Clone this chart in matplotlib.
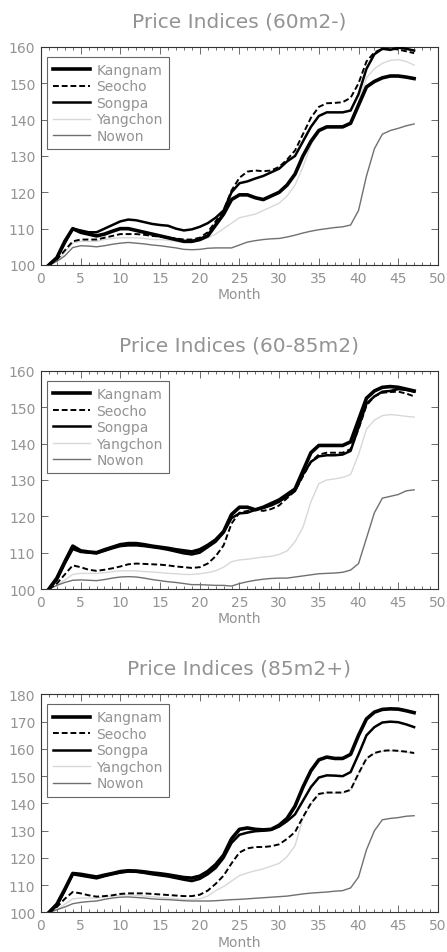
import numpy as np
import matplotlib.pyplot as plt
from matplotlib.ticker import MultipleLocator

months = list(range(1, 48))
districts = ['Kangnam', 'Seocho', 'Songpa', 'Yangchon', 'Nowon']
titles = ['Price Indices (60m2-)', 'Price Indices (60-85m2)', 'Price Indices (85m2+)']

# 60m2-
kangnam_s = [100, 102, 106.5, 110, 109, 108.5, 108, 108.5, 109.3, 110, 110, 109.5, 109, 108.5, 108, 107.5,
             107, 106.5, 106.5, 107, 108, 111, 114, 118, 119.3, 119.3, 118.5, 118, 119, 120, 122, 125,
             130, 134, 137, 138, 138, 138, 139, 144, 149, 150.5, 151.5, 152, 152, 151.7, 151.3]
seocho_s = [100, 101.5, 104, 106.5, 107, 107, 107, 107.5, 108, 108.5, 108.5, 108.5, 108.3, 108, 107.8, 107.5,
            107.3, 107, 107, 107.5, 109, 112, 115, 120.5, 124, 125.7, 126, 125.8, 126, 127, 129, 131.5,
            136, 140.5, 143.5, 144.5, 144.6, 144.8, 146, 150, 156, 158.5, 159.5, 159.5, 159.3, 158.8, 158.3]
songpa_s = [100, 102, 106, 110, 109.5, 109, 109, 110, 111, 112, 112.5, 112.3, 111.8, 111.3, 111, 110.8,
            110, 109.5, 109.8, 110.5, 111.5, 113, 115, 120, 122.5, 123, 123.8, 124.5, 125.5, 126.5, 128.5, 130,
            134, 138, 141, 142, 142, 142, 142.5, 147, 154, 158, 159.5, 159.2, 159.8, 159.5, 159]
yangchon_s = [100, 101, 103.5, 106, 106.5, 106.5, 106.5, 107, 107.3, 107.5, 107.5, 107.5, 107.3, 107, 107, 106.8,
              106.5, 106.3, 106.5, 106.8, 107.5, 108.5, 110, 111.5, 113, 113.5, 114, 115, 116, 117, 119, 122,
              127, 133, 137, 138, 138, 138, 139, 145, 151.5, 154, 155.5, 156.3, 156.5, 156, 155]
nowon_s = [100, 101, 102.5, 104.8, 105.3, 105.2, 105, 105.3, 105.7, 106, 106.2, 106, 105.8, 105.5, 105.3, 105,
           104.7, 104.3, 104.2, 104.3, 104.6, 104.7, 104.7, 104.7, 105.5, 106.3, 106.7, 107, 107.2, 107.3, 107.7, 108.2,
           108.8, 109.3, 109.7, 110, 110.3, 110.5, 111, 115, 124.5, 132, 136, 137, 137.6, 138.3, 138.8]

# 60-85m2
kangnam_m = [100, 103, 107.5, 111.8, 110.5, 110.2, 110, 110.8, 111.5, 112.2, 112.5, 112.5, 112.2, 111.8, 111.5, 111.2,
             110.8, 110.5, 110.2, 110.8, 112, 113.5, 115.8, 120.5, 122.5, 122.5, 121.8, 122.5, 123.5, 124.5, 126, 127.5,
             132.5, 137.5, 139.5, 139.5, 139.5, 139.5, 140.5, 146.5, 152.5, 154.5, 155.5, 155.7, 155.5, 155, 154.5]
seocho_m = [100, 101.5, 104, 106.5, 106, 105.3, 105, 105.3, 105.7, 106.2, 106.8, 107, 106.9, 106.8, 106.7, 106.5,
            106.2, 106, 105.8, 106, 107, 109, 112, 118, 121, 121.5, 121.8, 121.5, 122, 123, 125, 127,
            131, 135, 137, 137.5, 137.5, 137.5, 138.5, 144, 150.5, 153, 154, 154.2, 154.3, 153.8, 153]
songpa_m = [100, 102.5, 107, 111, 110.2, 110, 109.8, 110.5, 111.2, 111.8, 112, 112, 111.8, 111.5, 111.2, 110.8,
            110.3, 109.8, 109.5, 110, 111.5, 113, 115.5, 119.5, 120.8, 121, 121.8, 122.3, 123, 124, 125.5, 127,
            131.5, 135, 136.5, 136.8, 136.8, 137, 138, 144.5, 151, 153, 154.3, 154.5, 155, 154.8, 154.3]
yangchon_m = [100, 101, 102.5, 104, 104.3, 104.3, 104.3, 104.5, 104.8, 105, 105, 105, 104.8, 104.7, 104.5, 104.3,
              104.2, 104, 104, 104.2, 104.5, 105, 106, 107.5, 108, 108.2, 108.5, 108.8, 109, 109.5, 110.5, 113,
              117, 124, 129, 130, 130.3, 130.7, 131.5, 137, 144, 146.5, 147.7, 148, 147.8, 147.5, 147.3]
nowon_m = [100, 101, 101.8, 102.4, 102.5, 102.4, 102.3, 102.6, 103, 103.3, 103.4, 103.3, 103, 102.6, 102.3, 102,
           101.8, 101.5, 101.2, 101.2, 101.1, 101, 101, 100.8, 101.5, 102, 102.4, 102.7, 102.9, 103, 103, 103.3,
           103.6, 103.9, 104.2, 104.3, 104.4, 104.6, 105.2, 107, 114, 121, 125, 125.5, 126, 127, 127.3]

# 85m2+
kangnam_l = [100, 103, 108.5, 114.3, 114, 113.5, 113, 113.7, 114.3, 115, 115.3, 115.2, 114.9, 114.5, 114.2, 113.8,
             113.3, 112.8, 112.6, 113.3, 115, 117.5, 121, 127, 130.5, 131, 130.5, 130.3, 130.5, 132, 134.5, 139,
             146, 152, 156, 157, 156.5, 156.5, 158, 165, 171, 173.5, 174.5, 174.7, 174.6, 174, 173.3]
seocho_l = [100, 102, 105, 107.5, 107, 106.3, 105.8, 106, 106.3, 106.8, 107, 107, 107, 106.8, 106.6, 106.4,
            106.2, 106, 106, 106.5, 108, 110.5, 113.5, 118, 122, 123.5, 124, 124, 124.3, 125, 127, 129.5,
            135, 140, 143.5, 144, 144, 144, 145, 151, 156.5, 158.5, 159.3, 159.5, 159.3, 159, 158.5]
songpa_l = [100, 102.5, 108, 114, 113.5, 113, 112.5, 113.3, 114, 114.6, 115, 114.9, 114.5, 114, 113.6, 113.2,
            112.6, 112, 111.5, 112.3, 114, 116.3, 120, 125.5, 128.5, 129.3, 129.8, 130, 130.3, 131.5, 133.5, 136,
            141, 146, 149.5, 150.3, 150.2, 150, 151.5, 158, 165, 168, 169.7, 170, 169.8, 169, 168]
yangchon_l = [100, 101, 103, 105, 105.3, 105.3, 105.3, 105.7, 106, 106.3, 106.5, 106.3, 106, 105.8, 105.5, 105.3,
              105, 104.8, 104.7, 105, 106, 108, 109.5, 111.5, 113.5, 114.5, 115.3, 116, 117, 118, 120.5, 124.5,
              134.5, 139.8, 143.3, 143.8, 143.8, 143.8, 144.8, 150.8, 156.3, 158.3, 159.1, 159.3, 159.1, 158.8, 158.3]
nowon_l = [100, 101, 102, 103.2, 103.7, 104, 104.2, 104.8, 105.3, 105.6, 105.7, 105.5, 105.3, 105, 104.8, 104.7,
           104.5, 104.3, 104.2, 104.2, 104.2, 104.3, 104.5, 104.7, 104.8, 105, 105.2, 105.4, 105.6, 105.8, 106, 106.4,
           106.8, 107.1, 107.3, 107.5, 107.8, 108, 109, 113, 123, 130, 134, 134.5, 134.8, 135.3, 135.5]

panels = [
    [kangnam_s, seocho_s, songpa_s, yangchon_s, nowon_s],
    [kangnam_m, seocho_m, songpa_m, yangchon_m, nowon_m],
    [kangnam_l, seocho_l, songpa_l, yangchon_l, nowon_l],
]
ylims = [(100, 160), (100, 160), (100, 180)]

# line look per district: colour, width, style, drawing order
styles = [('black', 2.6, '-', 4), ('black', 1.4, (0, (3, 1.5)), 3), ('black', 1.8, '-', 3),
          ('#d8d8d8', 1.0, '-', 2), ('#707070', 1.0, '-', 2)]

txt = '#939393'
fig = plt.figure(figsize=(4.47, 9.53), dpi=100)
bottoms = [0.7209, 0.3809, 0.0415]

for k in range(3):
    ax = fig.add_axes([0.0917, bottoms[k], 0.888, 0.2288])
    for name, series, (c, lw, ls, z) in zip(districts, panels[k], styles):
        ax.plot(months, series, color=c, lw=lw, ls=ls, label=name, zorder=z)
    ax.set_xlim(0, 50)
    ax.set_ylim(*ylims[k])
    ax.xaxis.set_major_locator(MultipleLocator(5))
    ax.xaxis.set_minor_locator(MultipleLocator(1))
    ax.yaxis.set_major_locator(MultipleLocator(10))
    ax.tick_params(which='both', direction='in', top=True, right=True, color='#555555',
                   labelcolor=txt, labelsize=10, width=0.6)
    ax.tick_params(which='major', length=5, pad=4)
    ax.tick_params(which='minor', length=2.5)
    for s in ax.spines.values():
        s.set_linewidth(0.8)
        s.set_color('#333333')
    ax.set_xlabel('Month', color=txt, fontsize=10, labelpad=2)
    ax.set_title(titles[k], color=txt, fontsize=14.5, pad=15)
    leg = ax.legend(loc='upper left', bbox_to_anchor=(0.014, 0.955), fontsize=10,
                    fancybox=False, edgecolor='#666666', framealpha=1,
                    handlelength=2.7, handletextpad=0.45, labelspacing=0.18,
                    borderpad=0.45, borderaxespad=0)
    leg.get_frame().set_linewidth(0.8)
    for t in leg.get_texts():
        t.set_color(txt)

fig.savefig('out.png', dpi=100)
